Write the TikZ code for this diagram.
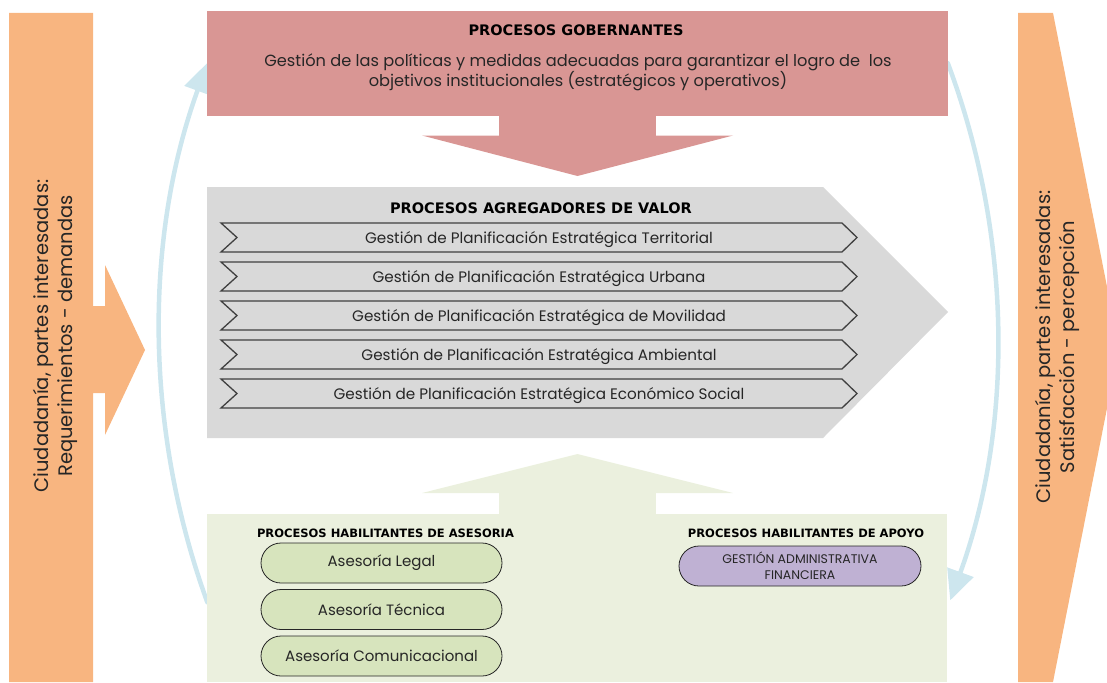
\documentclass[tikz,border=0pt]{standalone}
\usepackage{fontspec}
\usetikzlibrary{arrows.meta,shapes.misc}
\newfontfamily\headfont{DejaVu Sans}
\newfontfamily\gothic{Poppins}
\definecolor{citizen}{HTML}{F8B580}
\definecolor{govfill}{HTML}{D99694}
\definecolor{valfill}{HTML}{D9D9D9}
\definecolor{enafill}{HTML}{EBF0DE}
\definecolor{advfill}{HTML}{D7E4BD}
\definecolor{supfill}{HTML}{BFB1D3}
\definecolor{cyclecol}{HTML}{CDE6EE}
\definecolor{chevline}{HTML}{404040}
\definecolor{ink}{HTML}{262626}
\tikzset{
  titletext/.style={inner sep=0pt, text=black, font=\headfont\bfseries\fontsize{14.5}{16}\selectfont},
  subtitle/.style={inner sep=0pt, text=black, font=\headfont\bfseries\fontsize{11.5}{14}\selectfont},
  bodytext/.style={inner sep=0pt, text=ink, align=center, font=\gothic\fontsize{15.2}{20}\selectfont},
  govtext/.style={inner sep=0pt, text=ink, align=center, font=\gothic\fontsize{16.2}{20}\selectfont},
  sidetext/.style={inner sep=0pt, text=ink, align=center, rotate=90, font=\gothic\fontsize{19.5}{24}\selectfont},
  chevbox/.style={fill=valfill, draw=chevline, line width=1.3pt, line join=miter},
  pill/.style={rounded rectangle, draw=ink, line width=0.8pt, minimum width=241pt, minimum height=40pt, inner sep=0pt, text=ink, align=center, font=\gothic\fontsize{15}{16}\selectfont},
  cycle/.style={draw=cyclecol, line width=4.5pt, line cap=round, -{Triangle[length=30pt,width=27pt]}},
}
\begin{document}
\begin{tikzpicture}[x=1pt,y=-1pt]
\useasboundingbox (0,0) rectangle (1107,682);

% feedback cycle arcs (behind the process blocks)
\coordinate (lstart) at (207.3,602.2);
\coordinate (lend) at (207.7,62.5);
\coordinate (rstart) at (947.8,63.2);
\coordinate (rend) at (950.2,600.4);
\draw[cycle] (lstart) .. controls (143.9,427.6) and (144.3,236.8) .. (lend);
\draw[cycle] (rstart) .. controls (1012.7,236.2) and (1013.4,426.7) .. (rend);

% citizens: demands in, satisfaction out
\fill[citizen] (9,13) -- (93,13) -- (93,306) -- (105,306) -- (105,265) -- (145,350)
  -- (105,435) -- (105,393) -- (93,393) -- (93,682) -- (9,682) -- cycle;
\fill[citizen] (1018,13) -- (1053,13) -- (1119,347.5) -- (1053,682) -- (1018,682) -- cycle;

% governing processes
\fill[govfill] (207,11) rectangle (948,116);
\fill[govfill] (499,115) rectangle (656,136);
\fill[govfill] (422,135.5) -- (733,135.5) -- (577.5,176) -- cycle;

% value-adding processes
\fill[valfill] (207,187) -- (823,187) -- (948,312) -- (823,438) -- (207,438) -- cycle;
\foreach \t in {223,262,301,340,379}{
  \draw[chevbox] (221,\t) -- (842,\t) -- (857,\t+14.5) -- (842,\t+29) -- (221,\t+29) -- (237,\t+14.5) -- cycle;
}

% enabling processes
\fill[enafill] (422,493) -- (577.5,454) -- (733,493) -- cycle;
\fill[enafill] (499,492) rectangle (656,515);
\fill[enafill] (207,514) rectangle (947,682);

% texts
\node[sidetext] (lside) at (55,336) {Ciudadanía, partes interesadas:\\Requerimientos - demandas};
\node[sidetext] (rside) at (1057,347) {Ciudadanía, partes interesadas:\\Satisfacción - percepción};

\node[titletext] (tgob) at (576,30) {PROCESOS GOBERNANTES};
\node[govtext] (dgob) at (578,72) {Gestión de las políticas y medidas adecuadas para garantizar el logro de\ \ los\\objetivos institucionales (estratégicos y operativos)};

\node[titletext] (tval) at (541,208) {PROCESOS AGREGADORES DE VALOR};
\node[bodytext] (v1) at (539,239.5) {Gestión de Planificación Estratégica Territorial};
\node[bodytext] (v2) at (539,278.5) {Gestión de Planificación Estratégica Urbana};
\node[bodytext] (v3) at (539,317.5) {Gestión de Planificación Estratégica de Movilidad};
\node[bodytext] (v4) at (539,356.5) {Gestión de Planificación Estratégica Ambiental};
\node[bodytext] (v5) at (539,395.5) {Gestión de Planificación Estratégica Económico Social};

\node[subtitle] (tadv) at (385.5,533) {PROCESOS HABILITANTES DE ASESORIA};
\node[pill, fill=advfill] (a1) at (381.5,563) {\raisebox{-1.5pt}{Asesoría Legal}};
\node[pill, fill=advfill] (a2) at (381.5,609.5) {\raisebox{-1.5pt}{Asesoría Técnica}};
\node[pill, fill=advfill] (a3) at (381.5,656) {\raisebox{-1.5pt}{Asesoría Comunicacional}};

\node[subtitle] (tsup) at (806,533) {PROCESOS HABILITANTES DE APOYO};
\node[pill, fill=supfill, minimum width=242pt, font=\gothic\fontsize{12.5}{16}\selectfont] (s1) at (800,566) {GESTIÓN ADMINISTRATIVA\\FINANCIERA};
\end{tikzpicture}
\end{document}
